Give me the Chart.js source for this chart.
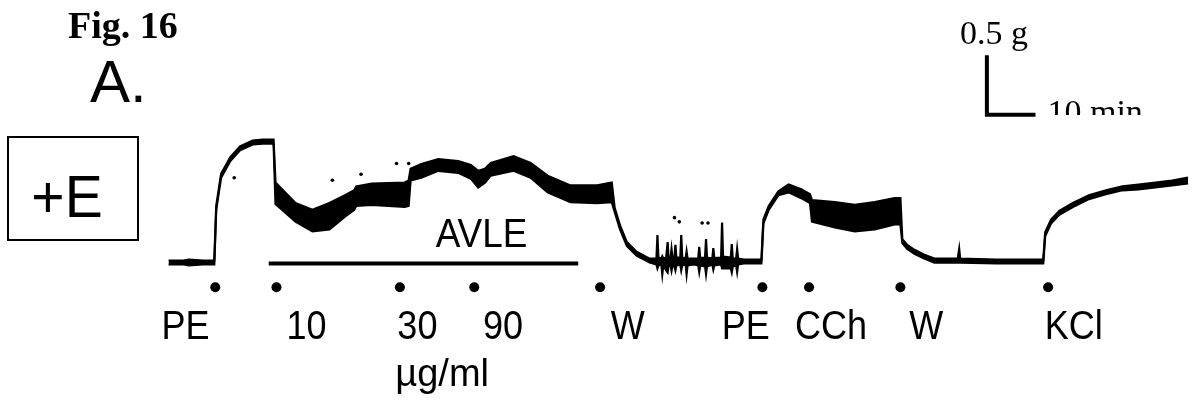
<!DOCTYPE html>
<html>
<head>
<meta charset="utf-8">
<script src="https://cdn.jsdelivr.net/npm/chart.js@4/dist/chart.umd.min.js"></script>
<style>
html,body{margin:0;padding:0;background:#fff;}
#wrap{position:relative;width:1195px;height:410px;}
</style>
</head>
<body>
<div id="wrap"><canvas id="c" width="1195" height="410"></canvas></div>
<script>
// Time (min) and isometric tension (g): upper and lower envelope of the recorded trace
const traceTime = [0.0,3.1,4.1,7.1,9.4,9.8,10.8,12.7,14.7,17.3,19.4,21.6,22.0,26.1,29.6,33.1,36.3,38.2,38.6,41.8,48.6,49.4,49.8,52.0,55.5,59.6,62.2,63.7,65.1,66.3,71.0,74.5,78.0,82.7,88.2,91.2,91.8,92.9,94.3,96.3,99.0,100.4,100.6,100.8,101.4,101.6,101.8,102.4,102.7,102.9,103.3,103.5,103.7,104.1,104.3,104.5,105.3,105.5,105.7,106.4,106.6,106.8,108.2,109.0,109.2,109.4,110.4,110.6,110.8,111.9,112.1,112.3,113.7,113.9,114.1,115.7,115.9,116.1,116.8,117.0,117.2,118.4,120.8,122.0,122.4,123.5,125.5,127.6,130.2,132.0,132.4,137.1,141.2,145.3,149.4,150.6,151.0,152.0,153.5,155.5,157.6,162.4,162.7,162.9,170.4,180.0,180.4,181.6,183.3,186.1,189.4,192.9,196.3,199.6,203.1,206.5,209.8];
const traceUpper = [0.025,0.025,0.033,0.025,0.025,0.484,0.754,0.893,0.984,1.033,1.041,1.041,0.680,0.508,0.451,0.508,0.574,0.615,0.648,0.672,0.680,0.697,0.795,0.836,0.877,0.861,0.828,0.779,0.795,0.844,0.902,0.844,0.738,0.656,0.656,0.680,0.467,0.320,0.180,0.098,0.041,0.041,0.238,0.049,0.041,0.060,0.041,0.049,0.180,0.041,0.041,0.120,0.045,0.049,0.156,0.049,0.049,0.238,0.049,0.041,0.100,0.041,0.041,0.041,0.140,0.045,0.049,0.205,0.049,0.041,0.130,0.045,0.049,0.344,0.057,0.049,0.164,0.041,0.041,0.120,0.041,0.033,0.033,0.033,0.369,0.484,0.607,0.664,0.623,0.582,0.533,0.516,0.492,0.516,0.549,0.549,0.205,0.156,0.115,0.074,0.041,0.041,0.123,0.041,0.033,0.033,0.262,0.369,0.443,0.508,0.574,0.615,0.648,0.664,0.680,0.697,0.721];
const traceLower = [-0.008,-0.008,-0.016,-0.008,-0.008,0.451,0.721,0.861,0.951,1.000,1.008,1.008,0.500,0.352,0.270,0.287,0.393,0.451,0.484,0.492,0.475,0.484,0.697,0.721,0.779,0.762,0.713,0.639,0.680,0.738,0.779,0.721,0.598,0.516,0.508,0.516,0.434,0.287,0.148,0.066,0.008,-0.008,-0.041,-0.016,-0.008,-0.090,-0.016,-0.057,-0.074,-0.016,-0.016,-0.060,-0.016,-0.025,-0.057,-0.016,-0.008,-0.057,-0.016,-0.008,-0.090,-0.016,-0.008,-0.016,-0.070,-0.016,-0.025,-0.090,-0.025,-0.008,-0.050,-0.016,-0.008,-0.041,-0.041,-0.041,-0.074,-0.025,-0.016,-0.070,-0.008,0.000,0.000,0.000,0.336,0.451,0.574,0.598,0.549,0.508,0.352,0.303,0.270,0.287,0.328,0.328,0.172,0.123,0.082,0.041,0.008,0.008,0.008,0.008,0.000,0.000,0.230,0.336,0.410,0.475,0.541,0.582,0.615,0.623,0.639,0.656,0.672];
// stray recorder dots
const artifactTime = [13.5,33.7,39.6,46.9,49.4,104.1,105.1,109.8,111.0];
const artifactTension = [0.72,0.70,0.75,0.84,0.84,0.385,0.35,0.34,0.34];
// drug additions (dots) and their labels
const eventTime = [9.6,22.2,47.6,62.9,88.8,122.2,131.8,150.6,181.0];
const labelTime = [3.5,28.4,51.2,68.8,94.5,118.8,136.3,155.9,186.3];
const labelText = ["PE","10","30","90","W","PE","CCh","W","KCl"];
const eventMarkY = -0.2;
// AVLE application bar
const avleStart = 20.6, avleEnd = 84.3, avleLevel = 0.0;
// calibration bar: 0.5 g, 10 min
const calT0 = 168.4, calG0 = 1.25, calDT = 10, calDG = 0.5;

const upperPts = traceTime.map((t,i)=>({x:t,y:traceUpper[i]}));
const lowerPts = traceTime.map((t,i)=>({x:t,y:traceLower[i]}));

const textPlugin = {
  id:'texts',
  afterDraw(chart){
    const ctx = chart.ctx, xs = chart.scales.x, ys = chart.scales.y;
    ctx.save();
    ctx.fillStyle = '#000';
    ctx.textBaseline = 'alphabetic';
    ctx.font = 'bold 38px "Liberation Serif"';
    ctx.textAlign = 'left';
    ctx.fillText('Fig. 16', 68, 38);
    ctx.font = '60px "Liberation Sans"';
    ctx.fillText('A.', 90, 102);
    ctx.lineWidth = 2;
    ctx.strokeStyle = '#000';
    ctx.strokeRect(8, 137, 130, 103);
    ctx.textAlign = 'center';
    ctx.save();
    ctx.translate(67, 217);
    ctx.scale(0.95,1);
    ctx.fillText('+E', 0, 0);
    ctx.restore();
    ctx.save();
    ctx.font = '41px "Liberation Sans"';
    ctx.translate(xs.getPixelForValue((avleStart+avleEnd)/2)+58, 247);
    ctx.scale(0.9,1);
    ctx.fillText('AVLE', 0, 0);
    ctx.restore();
    const ly = ys.getPixelForValue(eventMarkY) + 52;
    ctx.font = '40px "Liberation Sans"';
    labelText.forEach((s,i)=>{
      ctx.save();
      ctx.translate(xs.getPixelForValue(labelTime[i]), ly);
      ctx.scale(0.9,1);
      ctx.fillText(s, 0, 0);
      ctx.restore();
    });
    ctx.font = '38px "Liberation Sans"';
    ctx.fillText('\u00b5g/ml', xs.getPixelForValue(56.3), ly + 47);
    ctx.textAlign = 'left';
    ctx.font = '34px "Liberation Serif"';
    ctx.fillText('0.5 g', xs.getPixelForValue(calT0) - 27, ys.getPixelForValue(calG0 + calDG) - 11);
    ctx.save();
    ctx.beginPath();
    ctx.rect(0, 0, 1195, 115);
    ctx.clip();
    ctx.fillText('10 min', xs.getPixelForValue(calT0 + calDT) + 12, ys.getPixelForValue(calG0) + 8);
    ctx.restore();
    ctx.restore();
  }
};

new Chart(document.getElementById('c'), {
  type:'line',
  data:{
    datasets:[
      {label:'upper', data:upperPts, borderColor:'#000', borderWidth:2.2, pointRadius:0, fill:false, tension:0},
      {label:'lower', data:lowerPts, borderColor:'#000', borderWidth:2.2, pointRadius:0, fill:'-1', backgroundColor:'#000', tension:0},
      {label:'events', type:'scatter', data:eventTime.map(t=>({x:t,y:eventMarkY})), pointRadius:5, pointBackgroundColor:'#000', pointBorderWidth:0, showLine:false},
      {label:'artifacts', type:'scatter', data:artifactTime.map((t,i)=>({x:t,y:artifactTension[i]})), pointRadius:1.8, pointBackgroundColor:'#000', pointBorderWidth:0, showLine:false},
      {label:'AVLE', data:[{x:avleStart,y:avleLevel},{x:avleEnd,y:avleLevel}], borderColor:'#000', borderWidth:4, pointRadius:0, fill:false, borderCapStyle:'butt'},
      {label:'cal', data:[{x:calT0,y:calG0+calDG},{x:calT0,y:calG0},{x:calT0+calDT,y:calG0}], borderColor:'#000', borderWidth:4, pointRadius:0, fill:false, borderJoinStyle:'miter', borderCapStyle:'butt'}
    ]
  },
  options:{
    responsive:false,
    animation:false,
    layout:{padding:0},
    plugins:{legend:{display:false}, tooltip:{enabled:false}},
    scales:{
      x:{type:'linear', min:-33.67, max:210.2, display:false},
      y:{type:'linear', min:-1.189, max:2.172, display:false}
    }
  },
  plugins:[textPlugin]
});
</script>
</body>
</html>
